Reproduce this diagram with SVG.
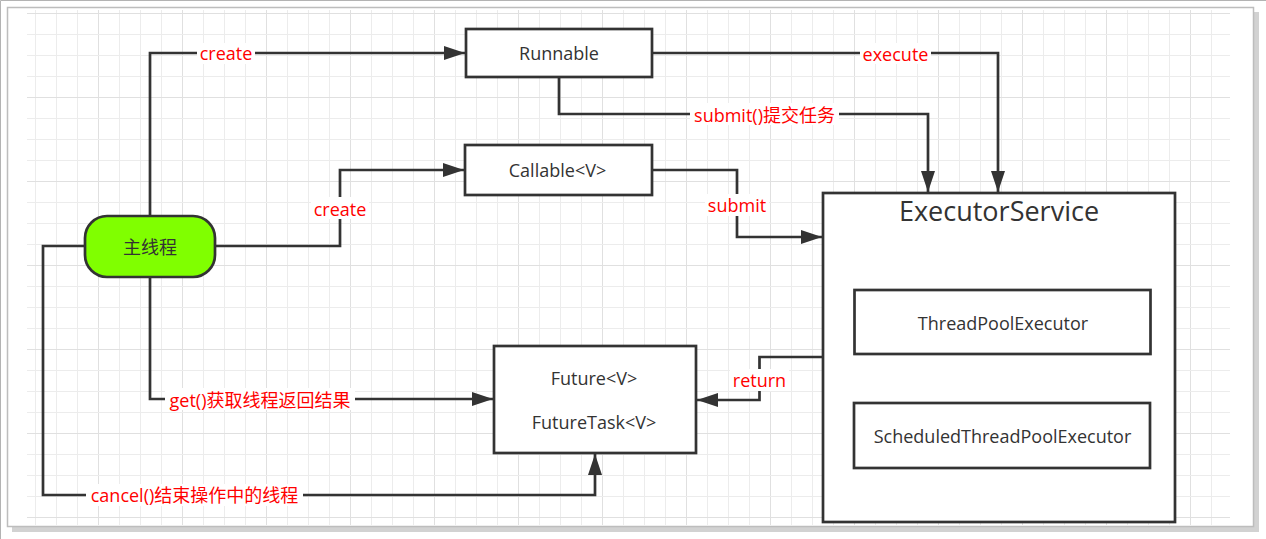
<svg xmlns="http://www.w3.org/2000/svg" width="1266" height="539" viewBox="0 0 1266 539">
<defs>
<style>
.box{fill:#fff;stroke:#333;stroke-width:2.7}
.t{font-family:"Open Sans","Noto Sans CJK SC",sans-serif;font-size:18px;fill:#333;text-anchor:middle}
.big{font-size:27px}
.lbl{font-family:"Open Sans","Noto Sans CJK SC",sans-serif;font-size:18px;fill:#ff0000;text-anchor:middle}
.bg{fill:#fff}
.edge{fill:none;stroke:#333;stroke-width:2.7;marker-end:url(#arr)}
</style>
<marker id="arr" markerUnits="userSpaceOnUse" markerWidth="22" markerHeight="14" refX="21" refY="7" orient="auto">
<path d="M0,0 L21,7 L0,14 z" fill="#333"/>
</marker>
<pattern id="gv" x="14" y="0" width="84" height="10" patternUnits="userSpaceOnUse">
<path d="M0.5,0V10" stroke="#e0e0e0" stroke-width="1"/>
<path d="M21.5,0V10M42.5,0V10M63.5,0V10" stroke="#ececec" stroke-width="1"/>
</pattern>
<pattern id="gh" x="0" y="13" width="10" height="84" patternUnits="userSpaceOnUse">
<path d="M0,0.5H10" stroke="#e0e0e0" stroke-width="1"/>
<path d="M0,21.5H10M0,42.5H10M0,63.5H10" stroke="#ececec" stroke-width="1"/>
</pattern>
</defs>

<g id="background">
<rect x="0" y="0" width="1266" height="539" fill="#fff"/>
<path d="M0.5,539V0.5H1266" fill="none" stroke="#b3b3b3" stroke-width="1"/>
<rect x="12" y="12" width="1247" height="520" fill="#d2d2d2"/>
<rect x="7.5" y="7.5" width="1246" height="519" fill="#fff" stroke="#bdbdbd" stroke-width="1.5"/>
<rect x="27" y="10" width="1203" height="515" fill="url(#gv)"/>
<rect x="27" y="13" width="1203" height="505" fill="url(#gh)"/>
</g>

<g id="connectors">
<path class="edge" d="M150,216 V53 H465"/>
<path class="edge" d="M215,246 H340 V170 H464"/>
<path class="edge" d="M652,53 H998 V192"/>
<path class="edge" d="M559,77 V114 H928 V192"/>
<path class="edge" d="M652,170 H737 V237 H822"/>
<path class="edge" d="M823,357 H759.5 V400 H697"/>
<path class="edge" d="M150,277 V399 H493"/>
<path class="edge" d="M85,246 H43 V495 H595 V454"/>
<g id="labels">
<rect class="bg" x="197" y="43" width="58" height="21"/>
<text class="lbl" x="226" y="60">create</text>
<rect class="bg" x="311" y="197" width="58" height="22"/>
<text class="lbl" x="340" y="215.5">create</text>
<rect class="bg" x="860" y="43" width="71" height="21"/>
<text class="lbl" x="895.5" y="60.5">execute</text>
<rect class="bg" x="690" y="103" width="149" height="22"/>
<text class="lbl" x="764.5" y="121.5">submit()提交任务</text>
<rect class="bg" x="705" y="194" width="64" height="22"/>
<text class="lbl" x="737" y="211.5">submit</text>
<rect class="bg" x="730" y="369" width="59" height="22"/>
<text class="lbl" x="759.5" y="386.5">return</text>
<rect class="bg" x="165" y="388" width="190" height="22"/>
<text class="lbl" x="260" y="407">get()获取线程返回结果</text>
<rect class="bg" x="86" y="484" width="217" height="22"/>
<text class="lbl" x="194.5" y="501.5">cancel()结束操作中的线程</text>
</g>
</g>

<g id="main-thread">
<rect x="85" y="216" width="130" height="61" rx="22" ry="22" fill="#80ff00" stroke="#333" stroke-width="2.7"/>
<text class="t" x="150" y="253.5">主线程</text>
</g>

<g id="runnable">
<rect class="box" x="466" y="29" width="186" height="48"/>
<text class="t" x="559" y="60">Runnable</text>
</g>

<g id="callable">
<rect class="box" x="465" y="145" width="187" height="50"/>
<text class="t" x="557.5" y="177">Callable&lt;V&gt;</text>
</g>

<g id="executor-service">
<rect class="box" x="823" y="193" width="352" height="329"/>
<text class="t big" x="999" y="221">ExecutorService</text>
</g>

<g id="thread-pool-executor">
<rect class="box" x="854.5" y="290" width="296" height="64"/>
<text class="t" x="1003" y="329.5">ThreadPoolExecutor</text>
</g>

<g id="scheduled-thread-pool-executor">
<rect class="box" x="854" y="403" width="296" height="65"/>
<text class="t" x="1002.5" y="442.5">ScheduledThreadPoolExecutor</text>
</g>

<g id="future">
<rect class="box" x="494" y="346" width="202" height="107"/>
<text class="t" x="594" y="385">Future&lt;V&gt;</text>
<text class="t" x="594" y="428.5">FutureTask&lt;V&gt;</text>
</g>
</svg>
